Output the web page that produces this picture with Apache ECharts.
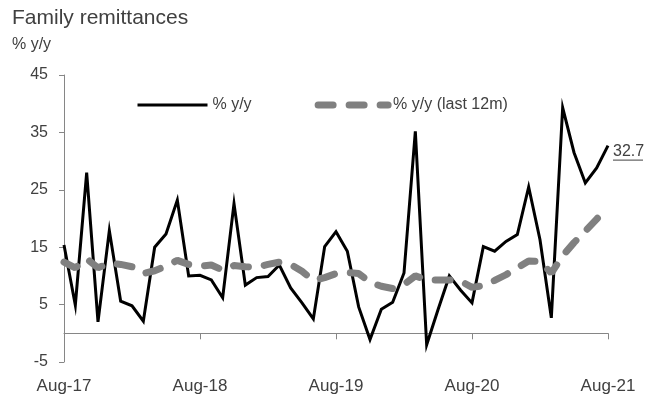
<!DOCTYPE html>
<html>
<head>
<meta charset="utf-8">
<script src="https://cdn.jsdelivr.net/npm/echarts@6/dist/echarts.min.js"></script>
<style>
  html, body { margin: 0; padding: 0; background: #fff; }
  #chart { width: 647px; height: 404px; }
</style>
</head>
<body>
<div id="chart"></div>
<script>
// Monthly family remittances, Aug-17 .. Aug-21
const monthNames = ['Jan', 'Feb', 'Mar', 'Apr', 'May', 'Jun', 'Jul', 'Aug', 'Sep', 'Oct', 'Nov', 'Dec'];
const startYear = 2017;
const startMonth = 7; // August
const monthCount = 49;

// % y/y
const yoy = [15.4, 4.9, 28.0, 2.0, 17.9, 5.6, 4.8, 2.1, 15.0, 17.3, 23.2, 10.0,
             10.1, 9.3, 6.2, 22.6, 8.4, 9.7, 9.9, 11.9, 7.9, 5.3, 2.5, 15.1,
             17.7, 14.3, 4.6, -1.1, 4.2, 5.4, 10.5, 35.2, -2.0, 4.1, 10.0, 7.5,
             5.3, 15.1, 14.3, 16.0, 17.2, 25.5, 16.3, 2.7, 39.3, 31.5, 26.2, 28.8,
             32.7];

// % y/y (last 12m)
const yoy12m = [12.4, 11.4, 13.0, 11.4, 12.2, 12.0, 11.6, 10.4, 10.9, 11.7, 12.7, 12.0,
                11.7, 11.9, 11.0, 11.8, 11.6, 11.5, 12.0, 12.4, 12.0, 10.8, 9.2, 9.7,
                10.4, 10.6, 10.4, 8.9, 8.2, 7.8, 8.5, 10.0, 9.3, 9.3, 9.3, 9.1,
                8.0, 8.3, 9.2, 10.2, 11.4, 12.6, 12.5, 10.5, 13.5, 15.8, 17.8, 19.9,
                22.0];

const yTicks = [-5, 5, 15, 25, 35, 45];

const seriesNames = ['% y/y', '% y/y (last 12m)'];

// Month labels such as "Aug-17"
const categories = [];
for (let i = 0; i < monthCount; i++) {
  const m = (startMonth + i) % 12;
  const y = startYear + Math.floor((startMonth + i) / 12);
  categories.push(monthNames[m] + '-' + String(y).slice(2));
}

const textColor = '#404040';
const axisColor = '#868686';
const fontFamily = '"Liberation Sans", Arial, sans-serif';

const solidStyle = { color: '#000000', width: 3, join: 'miter' };
const dashedStyle = { color: '#808080', width: 7, type: [15, 16], cap: 'round' };

const chart = echarts.init(document.getElementById('chart'), null, { renderer: 'canvas' });

chart.setOption({
  animation: false,
  backgroundColor: '#ffffff',
  title: {
    text: 'Family remittances',
    subtext: '% y/y',
    left: 8,
    top: 8,
    itemGap: 8,
    padding: [0, 4],
    textStyle: { fontFamily, fontSize: 21, fontWeight: 'normal', color: textColor },
    subtextStyle: { fontFamily, fontSize: 16, color: textColor }
  },
  legend: {
    data: [
      { name: seriesNames[0], lineStyle: solidStyle, itemStyle: { opacity: 0 } },
      { name: seriesNames[1], lineStyle: dashedStyle, itemStyle: { opacity: 0 } }
    ],
    left: 136,
    top: 97,
    padding: 0,
    itemWidth: 70,
    itemHeight: 16,
    itemGap: 63,
    itemStyle: { opacity: 0 },
    textStyle: { fontFamily, fontSize: 16, color: textColor }
  },
  grid: { left: 64, right: 39, top: 75, bottom: 42, containLabel: false },
  xAxis: [
    {
      // date labels along the bottom edge
      type: 'category',
      data: categories,
      boundaryGap: false,
      position: 'bottom',
      axisLine: { show: false, onZero: false },
      axisTick: { show: false },
      axisLabel: {
        interval: 11,
        margin: 16,
        fontFamily,
        fontSize: 17,
        color: textColor
      },
      splitLine: { show: false }
    },
    {
      // baseline at zero with yearly ticks
      type: 'category',
      data: categories,
      boundaryGap: false,
      position: 'bottom',
      axisLine: { show: true, onZero: true, lineStyle: { color: axisColor, width: 1 } },
      axisTick: { show: true, interval: 11, length: 6, lineStyle: { color: axisColor } },
      axisLabel: { show: false },
      splitLine: { show: false }
    }
  ],
  yAxis: {
    type: 'value',
    min: -5,
    max: 45,
    interval: 10,
    axisLine: { show: true, lineStyle: { color: axisColor, width: 1 } },
    axisTick: { show: true, length: 5, customValues: yTicks, lineStyle: { color: axisColor } },
    axisLabel: { customValues: yTicks, margin: 16, fontFamily, fontSize: 16, color: textColor },
    splitLine: { show: false }
  },
  series: [
    {
      name: seriesNames[0],
      type: 'line',
      xAxisIndex: 0,
      data: yoy,
      symbol: 'none',
      lineStyle: solidStyle,
      itemStyle: { color: '#000000' },
      z: 2,
      endLabel: {
        show: true,
        distance: 5,
        offset: [0, 6],
        formatter: p => '{v|' + p.value.toFixed(1) + '}\n{u|}',
        rich: {
          v: { fontFamily, fontSize: 16, color: textColor, lineHeight: 17 },
          u: { width: 30, height: 1, lineHeight: 1, backgroundColor: textColor }
        }
      }
    },
    {
      name: seriesNames[1],
      type: 'line',
      xAxisIndex: 0,
      data: yoy12m,
      symbol: 'none',
      lineStyle: dashedStyle,
      itemStyle: { color: '#808080' },
      z: 3
    }
  ]
});
</script>
</body>
</html>
